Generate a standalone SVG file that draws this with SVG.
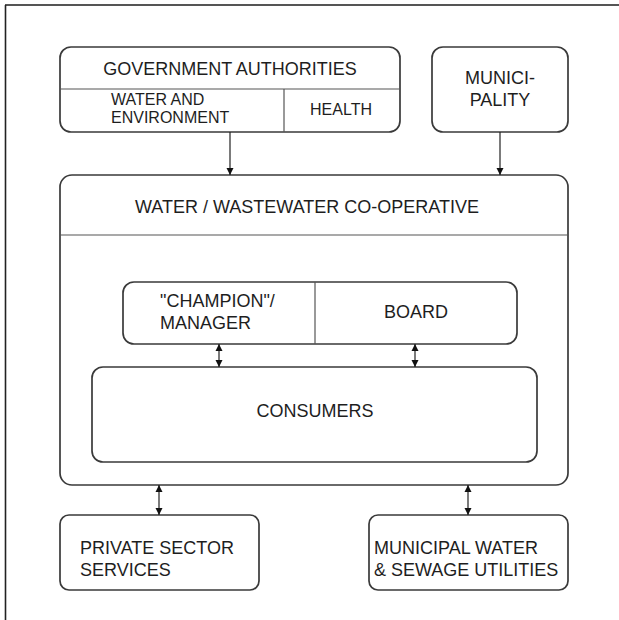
<svg xmlns="http://www.w3.org/2000/svg" width="619" height="620" viewBox="0 0 619 620">
<defs>
<marker id="ah" viewBox="0 0 10 10" refX="10" refY="5" markerWidth="7" markerHeight="8" markerUnits="userSpaceOnUse" orient="auto-start-reverse">
<path d="M0,0 L10,5 L0,10 z" fill="#111"/>
</marker>
</defs>
<style>
.box{fill:#fff;stroke:#3a3a3a;stroke-width:1.7}
.div{stroke:#555;stroke-width:1.2;fill:none}
.t{font-family:"Liberation Sans",Arial,sans-serif;font-size:18px;fill:#1e1e1e}
.s{font-family:"Liberation Sans",Arial,sans-serif;font-size:16px;fill:#1e1e1e}
.c{text-anchor:middle}
.con{stroke:#222;stroke-width:1.2;fill:none}
</style>
<rect width="619" height="620" fill="#fff"/>
<g id="frame">
<line x1="5" y1="5" x2="619" y2="5" stroke="#555" stroke-width="2"/>
<line x1="5.5" y1="5" x2="5.5" y2="620" stroke="#222" stroke-width="1.6"/>
</g>
<g id="gov">
<rect class="box" x="60" y="47" width="340" height="85" rx="11"/>
<line class="div" x1="60" y1="89" x2="400" y2="89"/>
<line class="div" x1="284" y1="89" x2="284" y2="132"/>
<text class="t c" x="230" y="75">GOVERNMENT AUTHORITIES</text>
<text class="s" x="111" y="105">WATER AND</text>
<text class="s" x="111" y="123">ENVIRONMENT</text>
<text class="s c" x="341" y="115">HEALTH</text>
</g>
<g id="muni">
<rect class="box" x="432" y="47" width="136" height="85" rx="11"/>
<text class="t c" x="500" y="84">MUNICI-</text>
<text class="t c" x="500" y="106">PALITY</text>
</g>
<g id="coop">
<rect class="box" x="60" y="175" width="508" height="310" rx="12"/>
<line class="div" x1="60" y1="235" x2="568" y2="235"/>
<text class="t c" x="307" y="213">WATER / WASTEWATER CO-OPERATIVE</text>
</g>
<g id="board">
<rect class="box" x="123" y="282" width="394" height="62" rx="11"/>
<line class="div" x1="315" y1="282" x2="315" y2="344"/>
<text class="t" x="160" y="307">"CHAMPION"/</text>
<text class="t" x="160" y="329">MANAGER</text>
<text class="t c" x="416" y="318">BOARD</text>
</g>
<g id="consumers">
<rect class="box" x="92" y="367" width="445" height="95" rx="11"/>
<text class="t c" x="315" y="417">CONSUMERS</text>
</g>
<g id="private">
<rect class="box" x="60" y="515" width="199" height="75" rx="9"/>
<text class="t" x="80" y="554">PRIVATE SECTOR</text>
<text class="t" x="80" y="576">SERVICES</text>
</g>
<g id="utilities">
<rect class="box" x="369" y="515" width="199" height="75" rx="9"/>
<text class="t" x="374" y="554">MUNICIPAL WATER</text>
<text class="t" x="374" y="576">&amp; SEWAGE UTILITIES</text>
</g>
<g id="connectors">
<line class="con" x1="230" y1="132" x2="230" y2="175" marker-end="url(#ah)"/>
<line class="con" x1="500" y1="132" x2="500" y2="175" marker-end="url(#ah)"/>
<line class="con" x1="219" y1="344" x2="219" y2="367" marker-start="url(#ah)" marker-end="url(#ah)"/>
<line class="con" x1="415" y1="344" x2="415" y2="367" marker-start="url(#ah)" marker-end="url(#ah)"/>
<line class="con" x1="159" y1="485" x2="159" y2="515" marker-start="url(#ah)" marker-end="url(#ah)"/>
<line class="con" x1="468" y1="485" x2="468" y2="515" marker-start="url(#ah)" marker-end="url(#ah)"/>
</g>
</svg>
